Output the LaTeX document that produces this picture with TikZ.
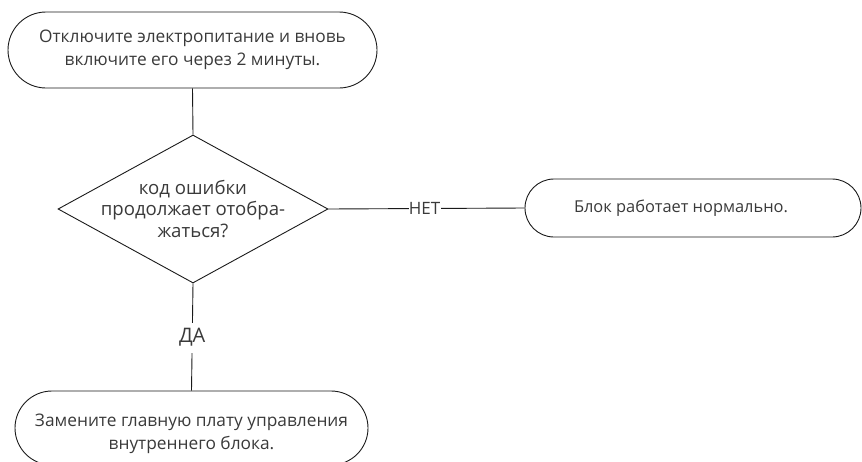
\documentclass[tikz,border=0pt]{standalone}
\usepackage{fontspec}
\setmainfont{Open Sans}
\usetikzlibrary{shapes.geometric}
\definecolor{txt}{HTML}{3A3A3A}
\definecolor{ln}{HTML}{1A1A1A}
\tikzset{
  stadium/.style={draw=ln, line width=0.9pt, rounded corners=#1, align=center, text=txt, inner sep=0pt},
  decision/.style={draw=ln, line width=0.9pt, diamond, inner sep=0pt, minimum width=270pt, minimum height=148pt},
  lbl/.style={text=txt, align=center, font=\fontsize{17.3}{22.5}\selectfont},
  declbl/.style={text=txt, align=center, font=\fontsize{18.6}{21.5}\selectfont},
  conn/.style={draw=ln, line width=0.9pt},
  edgelbl/.style={fill=white, text=txt, inner xsep=0.3pt, inner ysep=6pt}
}
\begin{document}
\begin{tikzpicture}[x=1pt,y=1pt]
\useasboundingbox (0,0) rectangle (862,-461);
\node[stadium=38pt, minimum width=369pt, minimum height=76pt, lbl] (start) at (192.5,-50)
  {Отключите электропитание и вновь\\включите его через 2 минуты.};
\node[decision] (dec) at (193,-209) {};
\node[declbl] (dectext) at (193,-209) {код ошибки\\продолжает отобра-\\жаться?};
\node[stadium=29pt, minimum width=336pt, minimum height=58pt] (ok) at (693,-208) {};
\node[lbl, font=\fontsize{16.4}{20}\selectfont] (oktext) at (681,-208) {Блок работает нормально.};
\node[stadium=37pt, minimum width=353pt, minimum height=74pt] (repl) at (191.5,-428) {};
\node[lbl] (repltext) at (191.5,-434) {Замените главную плату управления\\внутреннего блока.};
\draw[conn] (start.south) -- (dec.north);
\draw[conn] (dec.east) -- node[edgelbl, pos=0.49, font=\fontsize{17}{20}\selectfont] {НЕТ} (ok.west);
\draw[conn] (dec.south) -- node[edgelbl, pos=0.505, font=\fontsize{20}{22}\selectfont] {ДА} (repl.north);
\end{tikzpicture}
\end{document}
